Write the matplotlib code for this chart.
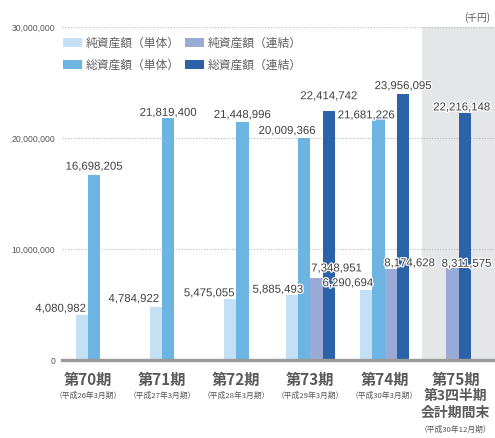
import numpy as np
import matplotlib.pyplot as plt
import matplotlib.patheffects as pe

plt.rcParams['font.family'] = ['Noto Sans CJK JP', 'DejaVu Sans']
NUM_FONT = ['Liberation Sans', 'DejaVu Sans']

# 期ごとのラベル
periods = ['第70期', '第71期', '第72期', '第73期', '第74期', '第75期']
period_extra = ['', '', '', '', '', '第3四半期\n会計期間末']
period_notes = ['（平成26年3月期）', '（平成27年3月期）', '（平成28年3月期）',
                '（平成29年3月期）', '（平成30年3月期）', '（平成30年12月期）']

# 単位: 千円 (None = データなし)
net_single = [4080982, 4784922, 5475055, 5885493, 6290694, None]
total_single = [16698205, 21819400, 21448996, 20009366, 21681226, None]
net_consol = [None, None, None, 7348951, 8174628, 8311575]
total_consol = [None, None, None, 22414742, 23956095, 22216148]

series_names = ['純資産額（単体）', '総資産額（単体）', '純資産額（連結）', '総資産額（連結）']
series = [net_single, total_single, net_consol, total_consol]
colors = ['#c3e0f4', '#6cb5e3', '#9aaad6', '#2c63a8']

# 数値ラベルのずらし量 (px): 系列ごと、期ごと
label_shift = [
    [(-21, 3), (-22, 5), (-21, 3), (-14, 2), (-18, 4), None],
    [(0, 5), (0, 2), (0, 4), (-17, 4), (-12, 1), None],
    [None, None, None, (20, 7), (19, 3), (14, 1)],
    [None, None, None, (0, 12), (0, 5), (-3, 3)],
]

fig = plt.figure(figsize=(4.95, 4.38), dpi=100)
ax = fig.add_axes([62 / 495, 1 - 360 / 438, 1 - 62 / 495, (360 - 27) / 438])

width = 0.167
x = np.arange(len(periods))

# 第75期 (四半期) の背景
ax.axvspan(4.5, 6, color='#e4e6e8', zorder=0, lw=0)

for i in range(len(periods)):
    present = [s for s in range(4) if series[s][i] is not None]
    n = len(present)
    for k, s in enumerate(present):
        v = series[s][i]
        bx = x[i] + (k - (n - 1) / 2) * width
        ax.bar(bx, v, width=width, color=colors[s], zorder=2, lw=0)
        dx, dy = label_shift[s][i]
        ax.annotate(f'{v:,}', xy=(bx, v), xytext=(dx, dy), textcoords='offset pixels',
                    ha='center', va='baseline', fontsize=8.2, family=NUM_FONT,
                    color='#404040', zorder=4,
                    path_effects=[pe.withStroke(linewidth=1.8, foreground='white')])

# 凡例用のダミー
for s in range(4):
    ax.bar(np.nan, np.nan, color=colors[s], label=series_names[s])

ax.set_xlim(-0.35, 5.49)
ax.set_ylim(0, 30000000)
ax.set_yticks([0, 10000000, 20000000, 30000000])
ax.set_yticklabels([f'{t:,}' for t in [0, 10000000, 20000000, 30000000]],
                   family=NUM_FONT, fontsize=6.2, color='#555555')
ax.tick_params(axis='y', length=0, pad=5)
ax.set_xticks([])

ax.set_axisbelow(True)
ax.yaxis.grid(True, linestyle=(0, (1, 1.5)), color='#b8b8b8', linewidth=0.8)
for side in ['left', 'top', 'right']:
    ax.spines[side].set_visible(False)
ax.spines['bottom'].set_color('#9a9a9a')
ax.spines['bottom'].set_linewidth(2.4)
ax.spines['bottom'].set_zorder(3)

# 期ラベル
for i, (p, extra, note) in enumerate(zip(periods, period_extra, period_notes)):
    shift = -3 if extra else 0
    ax.annotate(p, xy=(x[i], 0), xycoords=('data', 'axes fraction'),
                xytext=(shift, -12), textcoords='offset pixels',
                ha='center', va='top', fontsize=11, fontweight='bold',
                color='#5a5a5a')
    nlines = 1
    if extra:
        ax.annotate(extra, xy=(x[i], 0), xycoords=('data', 'axes fraction'),
                    xytext=(shift, -29), textcoords='offset pixels',
                    ha='center', va='top', fontsize=10, fontweight='bold',
                    color='#5a5a5a', linespacing=1.25)
        nlines += extra.count('\n') + 1
    ax.annotate(note, xy=(x[i], 0), xycoords=('data', 'axes fraction'),
                xytext=(shift, -12 - 17 * nlines - 3), textcoords='offset pixels',
                ha='center', va='top', fontsize=5.6, color='#555555')

ax.legend(loc='upper left', bbox_to_anchor=(63 / 495, 1 - 37 / 438),
          bbox_transform=fig.transFigure, ncol=2, frameon=False,
          fontsize=8.5, handlelength=1.6, handleheight=0.8, handletextpad=0.3,
          columnspacing=0.5, labelspacing=0.75, borderpad=0, borderaxespad=0,
          labelcolor='#606060')

fig.text(490 / 495, 1 - 12 / 438, '(千円)', ha='right', va='top', fontsize=7,
         color='#555555')

plt.savefig('out.png', dpi=100)
